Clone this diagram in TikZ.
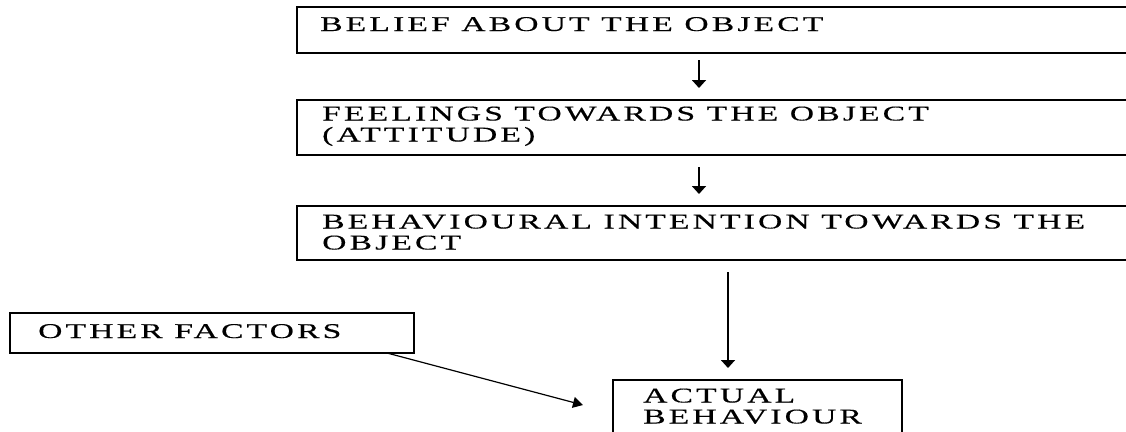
\documentclass[tikz,border=0pt]{standalone}
\usepackage{fontspec}
\setmainfont{Liberation Serif}[FakeStretch=1.6,LetterSpace=15,FakeBold=0.4]
\usetikzlibrary{arrows.meta,calc}
\begin{document}
\begin{tikzpicture}[x=1pt,y=-1pt,
  box/.style={draw=black,line width=1.4pt,anchor=north west,inner sep=0pt,outer sep=0pt},
  lbl/.style={anchor=base west,inner sep=0pt,align=left,font=\fontsize{21}{17.5}\selectfont},
  flow/.style={draw=black,line width=1.8pt,-{Triangle[length=8pt,width=14pt]}},
  side/.style={draw=black,line width=1.2pt,-{Triangle[length=10pt,width=11pt]}}]
\path[use as bounding box] (0,0) rectangle (1126,431);
\clip (0,0) rectangle (1126,431);
\fill[white] (0,0) rectangle (1126,431);

% boxes (the wide ones run past the right edge)
\node[box,minimum width=860pt,minimum height=46pt] (belief) at (297,7) {};
\node[box,minimum width=860pt,minimum height=55pt] (feel) at (297,100) {};
\node[box,minimum width=860pt,minimum height=54pt] (intent) at (297,206) {};
\node[box,minimum width=404pt,minimum height=40pt] (other) at (10,313) {};
\node[box,minimum width=289pt,minimum height=80pt] (actual) at (613,380) {};

% texts (a multi-line label sits on the baseline of its last line)
\node[lbl] (tbelief) at (320,31) {BELIEF ABOUT THE OBJECT};
\node[lbl] (tfeel) at (322,141.5) {FEELINGS TOWARDS THE OBJECT\\[3.5pt](ATTITUDE)};
\node[lbl] (tintent) at (322,249.5) {BEHAVIOURAL INTENTION TOWARDS THE\\[3.5pt]OBJECT};
\node[lbl] (tother) at (38,338) {OTHER FACTORS};
\node[lbl] (tactual) at (643,423.5) {ACTUAL\\[3.5pt]BEHAVIOUR};

% arrow columns
\coordinate (ax) at (699,0);
\coordinate (bx) at (728,0);

\draw[flow,shorten <=7pt,shorten >=12pt] (belief.south -| ax) -- (feel.north -| ax);
\draw[flow,shorten <=12pt,shorten >=12pt] (feel.south -| ax) -- (intent.north -| ax);
\draw[flow,shorten <=12pt,shorten >=12pt] (intent.south -| bx) -- (actual.north -| bx);
\draw[side] ($(other.south east)+(-27,0)$) -- ($(actual.north west)+(-30,25)$);
\end{tikzpicture}
\end{document}
